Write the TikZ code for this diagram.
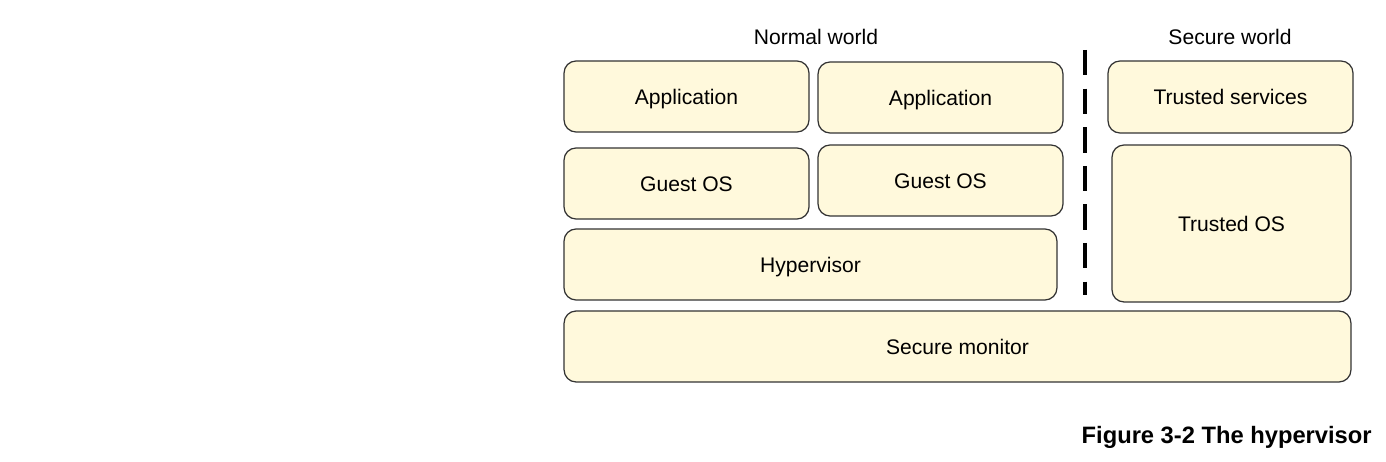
\documentclass[tikz,border=0pt]{standalone}
\usepackage{fontspec}
\setmainfont{Liberation Sans}
\definecolor{layerfill}{HTML}{FFF9DC}
\definecolor{layerline}{HTML}{333333}

\begin{document}
\begin{tikzpicture}[x=0.02cm, y=-0.02cm]
    \tikzstyle{layer}=[draw=layerline, fill=layerfill, line width=0.7pt, rounded corners=0.24cm, minimum width=4.9cm, minimum height=1.42cm, inner sep=0pt, text height=8.6pt, text depth=0pt, font=\fontsize{12}{14}\selectfont]
    \tikzstyle{world}=[inner sep=0pt, text height=8.6pt, text depth=0pt, font=\fontsize{12}{14}\selectfont]
    \useasboundingbox (0,0) rectangle (1386,462);
    % normal world
    \node [layer] (app1) at (686.5,96.5) {Application};
    \node [layer] (app2) at (940.5,97.5) {Application};
    \node [layer] (gos1) at (686.5,183.5) {Guest OS};
    \node [layer] (gos2) at (940.5,180.5) {Guest OS};
    \node [layer, minimum width=9.86cm] (hyp) at (810.5,264.5) {Hypervisor};
    % secure world
    \node [layer, minimum height=1.44cm] (tsrv) at (1230.5,97) {Trusted services};
    \node [layer, minimum width=4.78cm, minimum height=3.14cm] (tos) at (1231.5,223.5) {Trusted OS};
    \node [layer, minimum width=15.74cm] (mon) at (957.5,346.5) {Secure monitor};
    % headings and divider
    \node [world] (nw) at (816,37) {Normal world};
    \node [world] (sw) at (1230,37) {Secure world};
    \coordinate (divtop) at (1085,50);
    \coordinate (divbot) at (1085,295);
    \draw [line width=1.9pt, dash pattern=on 0.51cm off 0.262cm] (divtop) -- (divbot);
    \node [inner sep=0pt, anchor=base east, font=\fontsize{13.5}{16}\selectfont\bfseries] (cap) at (1372,443) {Figure 3-2 The hypervisor};
\end{tikzpicture}
\end{document}
